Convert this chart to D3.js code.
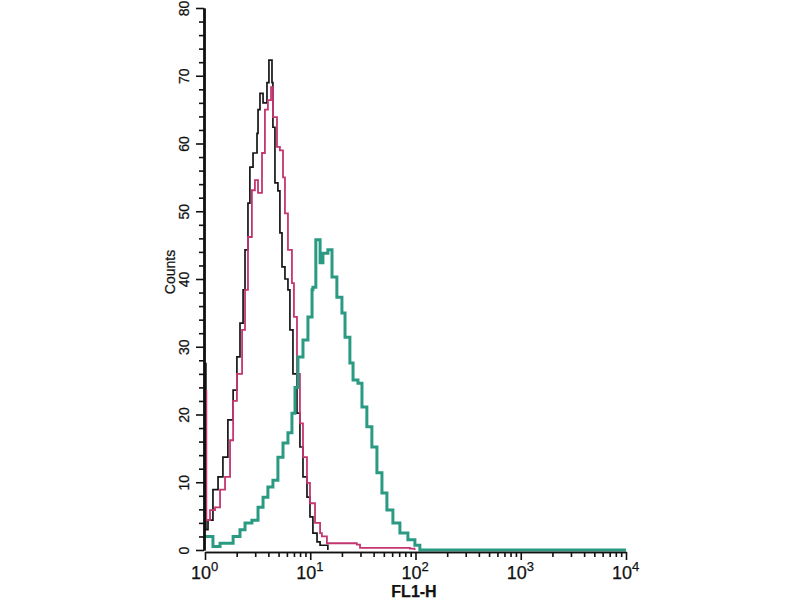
<!DOCTYPE html>
<html>
<head>
<meta charset="utf-8">
<script src="https://cdn.jsdelivr.net/npm/d3@7"></script>
<style>
  body { margin: 0; background: #fff; }
  svg { display: block; }
  text { font-family: "Liberation Sans Narrow", "Liberation Sans", Arial, sans-serif; fill: #111; stroke: #111; stroke-width: 0.25px; }
</style>
</head>
<body>
<div id="chart"></div>
<script>
// histogram values (FL1-H intensity, counts)
var blackX = [1.0, 1.02, 1.068, 1.19, 1.33, 1.48, 1.65, 1.85, 2.01, 2.15, 2.30, 2.40, 2.56, 2.67,
    2.86, 3.12, 3.19, 3.33, 3.56, 3.88, 4.05, 4.33, 4.42, 4.62, 4.93, 5.15, 5.39, 5.75, 6.14,
    6.41, 6.85, 7.48, 7.98, 8.53, 9.31, 9.94, 10.6, 11.6, 12.4, 14.7];
var blackY = [27.5, 3.0, 4.4, 8.9, 10.8, 13.7, 19.2, 23.6, 28.5, 33.5, 38.4, 44.3, 51.2, 56.5,
    58.6, 61.5, 65, 67.4, 66, 69, 72.3, 69, 62.4, 54.2, 53, 46.8, 41.8, 40, 38.4,
    32.5, 26, 20.2, 15.2, 10.8, 7.8, 4.9, 2.5, 1.2, 0.7, 0];

var pinkX = [1.0, 1.03, 1.116, 1.245, 1.39, 1.55, 1.73, 1.85, 2.01, 2.25, 2.40, 2.56, 2.79, 2.98,
    3.19, 3.48, 3.71, 3.96, 4.24, 4.42, 4.83, 5.15, 5.51, 5.75, 6.14, 6.70, 7.0, 7.48, 7.98,
    8.53, 9.31, 9.94, 11.1, 12.4, 12.9, 14.4, 27.7, 29.7, 88.5, 98];
var pinkY = [23.5, 4.4, 5.9, 6.3, 8.9, 10.8, 16.2, 22, 26, 32.5, 38.4, 46.2, 53.1, 54.6,
    52.7, 58.6, 65, 66.4, 68.3, 63.9, 59.5, 59, 55, 49.7, 44.3, 39.4, 34.4, 26, 18.7,
    13.7, 9.9, 6.9, 4, 2.5, 2, 1, 0.8, 0.3, 0.2, 0];

var tealX = [1.0, 1.19, 1.39, 1.62, 1.85, 2.15, 2.40, 2.79, 3.19, 3.56, 3.96, 4.42, 4.93, 5.51,
    6.14, 6.70, 7.16, 7.64, 8.53, 9.51, 10.4, 10.6, 11.3, 12.4, 13.2, 14.7, 16.1, 17.9, 20.0,
    21.4, 23.8, 25.5, 28.4, 31.0, 34.5, 38.5, 43.0, 48.0, 53.5, 61.0, 71.1, 84.7, 98.7, 110, 10000];
var tealY = [2, 0.5, 1, 1, 2, 3, 4, 4.4, 6.3, 7.8, 9.3, 10.3, 13.7, 15.8,
    17.3, 20.2, 24, 28.5, 31, 34.4, 38.4, 38.8, 45.8, 42.4, 43.8, 44.3, 40.3, 37.3, 35,
    31.4, 27.6, 25.1, 24.6, 21.1, 18.2, 15.2, 11.4, 8.4, 5.9, 4, 2.5, 1.5, 0.7, 0, 0];

var xMajor = [1, 10, 100, 1000, 10000],
    xExp = ["0", "1", "2", "3", "4"],
    yMajor = [0, 10, 20, 30, 40, 50, 60, 70, 80];

var width = 800,
    height = 600;

var svg = d3.select("#chart").append("svg")
    .attr("width", width)
    .attr("height", height);

var x = d3.scaleLog().domain([1, 10000]).range([205, 626]);
var y = d3.scaleLinear().domain([0, 80]).range([550, 8]);

// minor ticks: 2..9 per decade, every 2 counts
var xMinor = [];
xMajor.slice(0, -1).forEach(function(d) {
    for (var k = 2; k < 10; k++) xMinor.push(d * k);
});
var yMinor = d3.range(0, 81, 2).filter(function(d) { return d % 10 !== 0; });

// histograms
var line = d3.line()
    .x(function(d) { return x(d[0]); })
    .y(function(d) { return y(d[1]); })
    .curve(d3.curveStepAfter);

function drawSeries(xs, ys, colour, w) {
    svg.append("path")
        .datum(d3.zip(xs, ys))
        .attr("d", line)
        .attr("fill", "none")
        .attr("stroke", colour)
        .attr("stroke-width", w)
        .attr("stroke-linejoin", "miter");
}
drawSeries(blackX, blackY, "#161616", 1.7);
drawSeries(pinkX, pinkY, "#c4366f", 1.8);
drawSeries(tealX, tealY, "#2a9a82", 3);

// y axis
var yAxisG = svg.append("g").attr("transform", "translate(204,0)");
yAxisG.append("g")
    .call(d3.axisLeft(y).tickValues(yMinor).tickSize(5).tickSizeOuter(0).tickFormat(""));
var yMaj = yAxisG.append("g")
    .call(d3.axisLeft(y).tickValues(yMajor).tickSize(8).tickSizeOuter(0));
yMaj.selectAll("text")
    .attr("transform", "rotate(-90)")
    .attr("x", 0)
    .attr("y", -15)
    .attr("dy", 0)
    .style("text-anchor", "middle")
    .style("font-size", "14px");
yAxisG.selectAll("path, line").attr("stroke", "#111").attr("stroke-width", 1.6);
yAxisG.selectAll(".domain").attr("stroke-width", 2.4);

// x axis, just under the baseline
var xAxisG = svg.append("g").attr("transform", "translate(0," + (y(0) + 2) + ")");
xAxisG.append("g")
    .call(d3.axisBottom(x).tickValues(xMinor).tickSize(5).tickSizeOuter(0).tickFormat(""));
var xMaj = xAxisG.append("g")
    .call(d3.axisBottom(x).tickValues(xMajor).tickSize(8).tickSizeOuter(0).tickFormat(""));
xAxisG.selectAll("path, line").attr("stroke", "#111").attr("stroke-width", 1.6);

xMaj.selectAll(".tick").each(function(d, i) {
    var t = d3.select(this).append("text")
        .attr("x", -1)
        .attr("y", 27)
        .style("text-anchor", "middle")
        .style("font-size", "18px");
    t.append("tspan").text("10");
    t.append("tspan")
        .attr("dy", -8)
        .style("font-size", "13px")
        .text(xExp[i]);
});

// axis titles
svg.append("text")
    .attr("transform", "translate(175,272) rotate(-90)")
    .style("text-anchor", "middle")
    .style("font-size", "14px")
    .text("Counts");

svg.append("text")
    .attr("x", 414)
    .attr("y", 597)
    .style("text-anchor", "middle")
    .style("font-size", "16px")
    .style("font-weight", "bold")
    .text("FL1-H");
</script>
</body>
</html>
